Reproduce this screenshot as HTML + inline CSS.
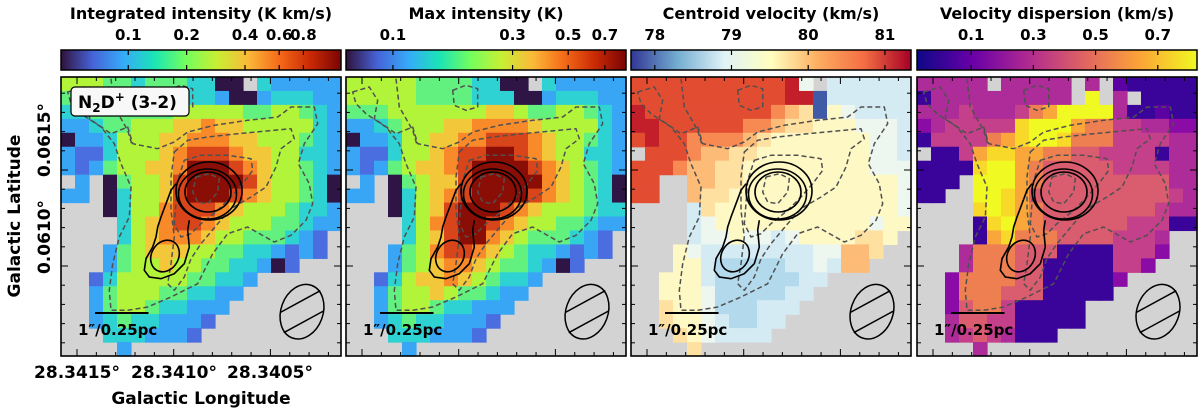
<!DOCTYPE html>
<html><head><meta charset="utf-8">
<style>
html,body{margin:0;padding:0;background:#fff;}
svg{display:block;font-family:"DejaVu Sans","Liberation Sans",sans-serif;font-weight:bold;}
</style></head>
<body>
<svg id="fig" width="1200" height="412" viewBox="0 0 1200 412" xmlns="http://www.w3.org/2000/svg"></svg>
<script>
// ---- data: per-panel level grids (0-9, '.' = no data) ----
const gridIntegrated = [
"5554434443300.322222","44444444333200233322","33444444555554455432","22344555667665555532",
"02235556677766555432","21135556788876655332","21245566799987655432",".2.04556899998655430",
"22.03556899987655430","...03557888765554332","....3567887655544322","....356777655444321.",
"...2456665544332121.","...24556554433201...","..135555544332......","..24555443322.......",
"..2455433222........","..234332221.........","...3332221..........","....2..............."];
const gridMax = [
"5555544443300.322222","55555444433300233322","44455555556654455432","22345556677776555532",
"02235566778887655432","21135567889987655332","21245667899998765432",".2.04566899999765430",
"22.03567899998765430","...03568999876555433","....3578998765544322","....356899765444321.",
"...2457887654332121.","...24567765443201...","..135667654332......","..24556544322.......",
"..2455433222........","..234332221.........","...3332221..........","....2..............."];
const gridCentroid = [
"8888888888893.222222","88888888888990222222","98888888887650432222","99888888776554443332",
"89887777654444444332",".8887665544444444332","88876655444444444333","88..6655444444444443",
"88..6554444444444443","....2544444444444443","....2344444444444344","....233433234444554.",
"...432222222233665..","...44211111223266...","..444211111122......","..44431111122.......",
"..5443111222........","..544321122.........","...5432222..........","....5..............."];
const gridDispersion = [
"33333.33333.3.100000","03333333333.9.3.0000","33343334679999300100","23444448999766443322",
"04444678998666444433",".0047887766554444033","00008997655555444433","000.9997655555555533",
"00..9987555555555543","....8987655555555433","....0897655555544400","....07866655554443..",
"...366655500004442..","...36665500000442...","..2666655000002.....","..266655500000......",
"..2566400000........","..3554400000........","..34543000..........","....3..............."];
const titles = ["Integrated intensity (K km/s)","Max intensity (K)","Centroid velocity (km/s)","Velocity dispersion (km/s)"];
const cbTickLabels = [["0.1","0.2","0.4","0.6","0.8"],["0.1","0.3","0.5","0.7"],["78","79","80","81"],["0.1","0.3","0.5","0.7"]];
const cbTickValues = [[0.1,0.2,0.4,0.6,0.8],[0.1,0.3,0.5,0.7],[78,79,80,81],[0.1,0.3,0.5,0.7]];
const cbLog = [true,true,false,false];
const cbRange = [[0.045,1.25],[0.065,0.85],[77.69,81.34],[-0.074,0.826]];
const xTickLabels = ["28.3415°","28.3410°","28.3405°"];
const yTickLabels = ["0.0615°","0.0610°"];

const grids=[gridIntegrated,gridMax,gridCentroid,gridDispersion];
const turboPal=['#2e1545','#4a6ee0','#38a6f5','#2fd2d2','#62f17f','#b2f43a','#f2c83a','#f88a2a','#d9451a','#8a0e05'];
const rdPal=['#3f5aa6','#b3d9ec','#d4ebf4','#eef7ef','#fdf8c4','#fee0a0','#fdbb78','#f68a52','#e24d32','#c21f2a'];
const plPal=['#3a049a','#5c02a3','#8a0ba6','#ad2c99','#c5408a','#d95d6e','#ee7f50','#f9a63a','#f8d92a','#f0f921'];
const pals=[turboPal,turboPal,rdPal,plPal];
const grads=[
 ['#30123b','#4662d7','#36aaf9','#1ae4b6','#72fe5e','#c7ef34','#faba39','#f66b19','#ca2a04','#7a0403'],
 ['#30123b','#4662d7','#36aaf9','#1ae4b6','#72fe5e','#c7ef34','#faba39','#f66b19','#ca2a04','#7a0403'],
 ['#313695','#74add1','#e0f3f8','#ffffbf','#fdae61','#f46d43','#a50026'],
 ['#0d0887','#6a00a8','#b12a90','#e16462','#fca636','#f0f921']];

const PX=[61,346,631,917], PY=77, PW=280, PH=279, CBY=50, CBH=20;
const NS="http://www.w3.org/2000/svg";
const svg=document.getElementById('fig');
function el(tag,attrs,parent){const e=document.createElementNS(NS,tag);for(const k in attrs)e.setAttribute(k,attrs[k]);(parent||svg).appendChild(e);return e;}
const defs=el('defs',{});
grads.forEach((g,i)=>{const lg=el('linearGradient',{id:'g'+i,x1:0,x2:1,y1:0,y2:0},defs);g.forEach((c,j)=>el('stop',{offset:j/(g.length-1),'stop-color':c},lg));});

// contour geometry (3x crop coords -> panel-relative /3)
function pathOf(pts,close){return pts.map((p,i)=>(i?'L':'M')+(p[0]/3).toFixed(1)+','+(p[1]/3).toFixed(1)).join('')+(close?'Z':'');}
const dashA=[[20,45],[70,30],[95,70],[85,125],[150,170],[200,150],[215,200],[290,215],[340,195],[380,165],[460,145],[560,130],[650,120],[690,90],[760,90],[770,140],[730,200],[712,260],[745,320],[755,380],[735,430],[690,475],[640,495],[560,450],[500,470],[455,530],[410,620],[330,660],[260,690],[200,700],[150,700],[145,640],[155,560],[175,480],[205,420],[210,330],[180,260],[160,200],[120,150],[60,110],[30,80]];
const dashB=[[340,225],[380,190],[440,180],[530,170],[690,155],[700,185],[660,215],[645,270],[615,330],[570,360],[510,395],[470,440],[420,500],[390,545],[370,600],[340,640],[320,620],[330,560],[340,480],[330,400],[330,300]];
const dashC=[[370,250],[420,235],[500,235],[570,245],[575,280],[545,320],[510,360],[470,400],[420,440],[390,470],[360,480],[340,440],[345,380],[350,310]];
const dashD=[[405,300],[445,290],[475,305],[470,345],[440,380],[410,375],[395,345]];
const dashE=[[320,40],[360,25],[395,35],[395,90],[360,100],[325,85]];
const dashF=[[150,5],[160,90],[200,160],[212,200]];
const tail=[[345,320],[330,340],[315,380],[300,420],[290,450],[285,480],[275,510],[255,545],[250,580],[265,600],[300,605],[340,590],[370,560],[385,510],[380,460],[385,430]];

function yOfVal(i,v){const r=cbRange[i];if(cbLog[i])return (Math.log(v)-Math.log(r[0]))/(Math.log(r[1])-Math.log(r[0]));return (v-r[0])/(r[1]-r[0]);}

for(let i=0;i<4;i++){
  const x0=PX[i];
  const t=el('text',{x:x0+PW/2,y:19,'text-anchor':'middle','font-size':16});
  t.textContent=titles[i];
  
  
  const cb=el('rect',{x:x0,y:CBY,width:PW,height:CBH,fill:'url(#g'+i+')',stroke:'#000','stroke-width':1.5});
  
  
  cbTickValues[i].forEach((v,j)=>{
    const tx=x0+PW*yOfVal(i,v);
    el('line',{x1:tx,x2:tx,y1:CBY,y2:CBY+5,stroke:'#000','stroke-width':1.2});
    el('line',{x1:tx,x2:tx,y1:CBY+CBH-5,y2:CBY+CBH,stroke:'#000','stroke-width':1.2});
    const tl=el('text',{x:tx,y:40,'text-anchor':'middle','font-size':15});
    tl.textContent=cbTickLabels[i][j];
    
    
  });
  const g=el('g',{transform:'translate('+x0+','+PY+')'});
  
  
  el('rect',{x:0,y:0,width:PW,height:PH,fill:'#d3d3d3'},g);
  const grid=grids[i], nr=grid.length, nc=grid[0].length, cw=PW/nc, ch=PH/nr;
  for(let r=0;r<nr;r++)for(let c=0;c<nc;c++){
    const ch0=grid[r][c]; if(ch0==='.'||ch0===undefined)continue;
    const cell=el('rect',{x:(c*cw).toFixed(2),y:(r*ch).toFixed(2),width:(cw+0.6).toFixed(2),height:(ch+0.6).toFixed(2),fill:pals[i][+ch0]},g);
    
    
  }
  [[dashA,1],[dashB,1],[dashC,1],[dashD,1],[dashE,1],[dashF,0]].forEach(d=>{
    const p=el('path',{d:pathOf(d[0],d[1]),fill:'none',stroke:'#505050','stroke-width':1.5,'stroke-dasharray':'5,3','stroke-linejoin':'round'},g);
    
    
  });
  const sc=el('g',{fill:'none',stroke:'#000','stroke-width':1.6},g);
  
  
  el('ellipse',{cx:148,cy:114,rx:33,ry:29},sc);
  el('ellipse',{cx:146.5,cy:117,rx:29,ry:25},sc);
  el('ellipse',{cx:147,cy:115,rx:23,ry:20},sc);
  el('path',{d:pathOf(tail,false)},sc);
  el('ellipse',{cx:0,cy:0,rx:13.5,ry:16.5,transform:'translate(104,179) rotate(30)'},sc);
  const bm=el('g',{transform:'translate(241,234.7) rotate(20)'},g);
  
  
  el('ellipse',{cx:0,cy:0,rx:21,ry:28,fill:'none',stroke:'#000','stroke-width':1.5},bm);
  el('line',{x1:-20,y1:8,x2:10,y2:-26,stroke:'#000','stroke-width':1.5},bm);
  el('line',{x1:-10,y1:26,x2:20,y2:-8,stroke:'#000','stroke-width':1.5},bm);
  const sb=el('line',{x1:34,x2:87.5,y1:236,y2:236,stroke:'#000','stroke-width':2},g);
  
  
  const st=el('text',{x:17,y:258,'font-size':15},g);
  st.textContent='1″/0.25pc';
  
  
  const tk=el('g',{stroke:'#000','stroke-width':1},g);
  for(let k=-2;k<16;k++){
    const tx=16+k*19.34; if(tx<=1||tx>=PW-1)continue;
    const L=(k%5===0)?7:4;
    el('line',{x1:tx,x2:tx,y1:PH,y2:PH-L},tk);el('line',{x1:tx,x2:tx,y1:0,y2:L},tk);
  }
  for(let k=-5;k<16;k++){
    const ty=93+k*19.2; if(ty<=1||ty>=PH-1)continue;
    const L=(k%5===0)?7:4;
    el('line',{x1:0,x2:L,y1:ty,y2:ty},tk);el('line',{x1:PW,x2:PW-L,y1:ty,y2:ty},tk);
  }
  el('rect',{x:0,y:0,width:PW,height:PH,fill:'none',stroke:'#000','stroke-width':1.6},g);
  if(i===0){
    const lb=el('g',{},g);
    
    
    el('rect',{x:10,y:10,width:118,height:29,rx:4,fill:'#f8f8f8',stroke:'#000','stroke-width':1.2},lb);
    const lt=el('text',{x:17,y:31,'font-size':17},lb);
    lt.innerHTML='N<tspan font-size="12" dy="4">2</tspan><tspan dy="-4">D</tspan><tspan font-size="12" dy="-7">+</tspan><tspan dy="7"> (3-2)</tspan>';
  }
}
[77,174,270].forEach((x,j)=>{
  const t=el('text',{x:x,y:378,'text-anchor':'middle','font-size':17});
  t.textContent=xTickLabels[j];
  
  
});
[140,237].forEach((y,j)=>{
  const t=el('text',{x:0,y:0,'text-anchor':'middle','font-size':17,transform:'translate(50,'+y+') rotate(-90)'});
  t.textContent=yTickLabels[j];
  
  
});
const xt=el('text',{x:201,y:404,'text-anchor':'middle','font-size':17});
xt.textContent='Galactic Longitude';


const yt=el('text',{x:0,y:0,'text-anchor':'middle','font-size':17,transform:'translate(20,216) rotate(-90)'});
yt.textContent='Galactic Latitude';


</script>
</body></html>
